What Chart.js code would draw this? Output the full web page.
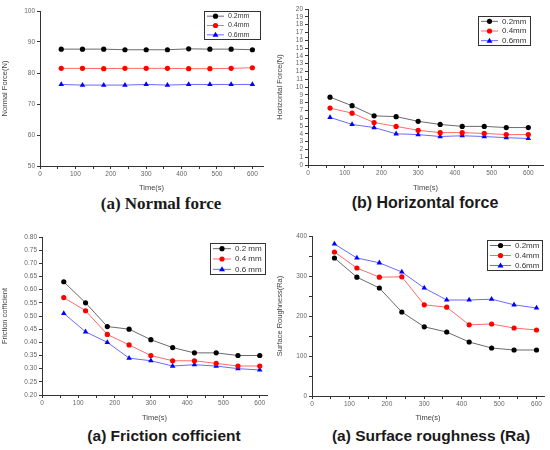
<!DOCTYPE html>
<html>
<head>
<meta charset="utf-8">
<script src="https://cdn.jsdelivr.net/npm/chart.js@4.4.1/dist/chart.umd.min.js"></script>
<style>
  body { margin: 0; background: #fff; width: 550px; height: 450px; position: relative; overflow: hidden; font-family: "Liberation Sans", Arial, sans-serif; }
  .panel { position: absolute; width: 275px; }
  .cap { position: absolute; font-weight: bold; font-size: 15px; white-space: nowrap; transform: translateX(-50%); color: #1a1a1a; }
</style>
</head>
<body>
<div class="panel" style="left:0;top:0;height:192px"><canvas id="chartA"></canvas></div>
<div class="panel" style="left:275px;top:0;height:192px"><canvas id="chartB"></canvas></div>
<div class="panel" style="left:0;top:225px;height:197px"><canvas id="chartC"></canvas></div>
<div class="panel" style="left:275px;top:225px;height:197px"><canvas id="chartD"></canvas></div>
<div class="cap" style="left:161px;top:194px;font-family:'Liberation Serif',serif;font-size:17px">(a) Normal force</div>
<div class="cap" style="left:425px;top:194px;font-size:16px">(b) Horizontal force</div>
<div class="cap" style="left:164px;top:427px;font-size:15.5px">(a) Friction cofficient</div>
<div class="cap" style="left:431px;top:427px;font-size:15.5px">(a) Surface roughness (Ra)</div>
<script>
// tiempos de medicion (s)
const tiempos = [60, 120, 180, 240, 300, 360, 420, 480, 540, 600];
const marcasX = [0, 50, 100, 150, 200, 250, 300, 350, 400, 450, 500, 550, 600];
const espesores = ["0.2mm", "0.4mm", "0.6mm"];
const espesoresC = ["0.2 mm", "0.4 mm", "0.6 mm"];

// (a) fuerza normal
const normal02 = [87.7, 87.7, 87.7, 87.5, 87.5, 87.5, 87.8, 87.7, 87.7, 87.5];
const normal04 = [81.5, 81.5, 81.4, 81.5, 81.5, 81.5, 81.4, 81.4, 81.5, 81.7];
const normal06 = [76.3, 76.1, 76.1, 76.1, 76.3, 76.1, 76.3, 76.3, 76.3, 76.3];

// (b) fuerza horizontal
const horiz02 = [8.7, 7.6, 6.3, 6.2, 5.6, 5.2, 4.95, 4.95, 4.8, 4.8];
const horiz04 = [7.3, 6.65, 5.45, 4.95, 4.45, 4.15, 4.15, 4.05, 3.9, 3.9];
const horiz06 = [6.1, 5.2, 4.8, 4.0, 3.9, 3.65, 3.75, 3.65, 3.5, 3.4];

// (c) coeficiente de friccion
const fric02 = [0.63, 0.55, 0.46, 0.45, 0.41, 0.38, 0.36, 0.36, 0.35, 0.35];
const fric04 = [0.57, 0.52, 0.43, 0.39, 0.35, 0.33, 0.33, 0.32, 0.31, 0.31];
const fric06 = [0.51, 0.44, 0.40, 0.34, 0.33, 0.31, 0.315, 0.31, 0.30, 0.295];

// (d) rugosidad superficial
const rug02 = [345, 297, 270, 210, 173, 160, 135, 120, 115, 115];
const rug04 = [360, 320, 297, 298, 228, 222, 178, 180, 170, 165];
const rug06 = [380, 345, 333, 310, 270, 240, 240, 242, 228, 220];

const marcas = ["#000000", "#ff0000", "#0000ff"];
const lineas = ["#6a6a6a", "#ff6a6a", "#6a6aff"];
const formas = ["circle", "circle", "triangle"];

const leyendaCaja = {
  id: "leyendaCaja",
  afterDatasetsDraw(chart, args, opts) {
    const ctx = chart.ctx;
    const b = opts.caja;
    ctx.save();
    ctx.strokeStyle = "#333";
    ctx.lineWidth = 1;
    ctx.strokeRect(b.x + 0.5, b.y + 0.5, b.w, b.h);
    const fila = b.h / chart.data.datasets.length;
    chart.data.datasets.forEach((ds, i) => {
      const y = b.y + fila * (i + 0.5) + 0.5;
      const x0 = b.x + 3;
      ctx.strokeStyle = ds.borderColor;
      ctx.lineWidth = 1;
      ctx.beginPath();
      ctx.moveTo(x0, y);
      ctx.lineTo(x0 + b.linea, y);
      ctx.stroke();
      const cx = x0 + b.linea / 2;
      ctx.fillStyle = ds.pointBackgroundColor;
      ctx.beginPath();
      if (ds.pointStyle === "triangle") {
        ctx.moveTo(cx, y - 3);
        ctx.lineTo(cx + 3, y + 2);
        ctx.lineTo(cx - 3, y + 2);
        ctx.closePath();
      } else {
        ctx.arc(cx, y, 2.6, 0, Math.PI * 2);
      }
      ctx.fill();
      ctx.fillStyle = "#333";
      ctx.font = b.fuente + "px 'Liberation Sans', Arial, sans-serif";
      ctx.textBaseline = "middle";
      ctx.textAlign = "left";
      ctx.fillText(ds.label, x0 + b.linea + 4, y);
    });
    ctx.restore();
  }
};

function series(nombres, valores) {
  return valores.map((v, i) => ({
    label: nombres[i],
    data: tiempos.map((t, j) => ({ x: t, y: v[j] })),
    borderColor: lineas[i],
    borderWidth: 1,
    pointStyle: formas[i],
    pointRadius: formas[i] === "triangle" ? 3.2 : 2.6,
    pointBackgroundColor: marcas[i],
    pointBorderColor: marcas[i],
    pointBorderWidth: 0,
    tension: 0,
    fill: false
  }));
}

function grafico(id, p) {
  const canvas = document.getElementById(id);
  const ancho = 275;
  const alto = canvas.parentNode.clientHeight;
  const ejeComun = {
    grid: { drawOnChartArea: false, drawTicks: true, tickLength: 3, color: "#333", tickWidth: 1 },
    border: { color: "#333", width: 1 }
  };
  return new Chart(canvas, {
    type: "line",
    data: { datasets: series(p.nombres, p.valores) },
    options: {
      responsive: true,
      maintainAspectRatio: false,
      animation: false,
      layout: { padding: { left: 0, right: ancho - p.area.right, top: p.area.top, bottom: 0 } },
      plugins: {
        legend: { display: false },
        tooltip: { enabled: false },
        leyendaCaja: { caja: p.caja }
      },
      scales: {
        x: Object.assign({}, ejeComun, {
          type: "linear",
          min: 0,
          max: p.xMax,
          afterBuildTicks: s => { s.ticks = marcasX.map(v => ({ value: v })); },
          ticks: {
            autoSkip: false,
            maxRotation: 0,
            padding: 1,
            color: "#666",
            font: { size: 6.5, family: "'Liberation Sans', Arial, sans-serif" },
            callback: v => (v % 100 === 0 ? v : "")
          },
          title: { display: true, text: "Time(s)", color: "#444", padding: 0, font: { size: 7.5, family: "'Liberation Sans', Arial, sans-serif" } },
          afterFit: s => { s.height = alto - p.area.bottom; }
        }),
        y: Object.assign({}, ejeComun, {
          min: p.yMin,
          max: p.yMax,
          ticks: {
            stepSize: p.yStep,
            autoSkip: false,
            padding: 2,
            color: "#666",
            font: { size: 6.5, family: "'Liberation Sans', Arial, sans-serif" },
            callback: p.yEtiqueta
          },
          title: { display: true, text: p.yTitulo, color: "#444", padding: 0, font: { size: 7.5, family: "'Liberation Sans', Arial, sans-serif" } },
          afterFit: s => { s.width = p.area.left; }
        })
      }
    },
    plugins: [leyendaCaja]
  });
}

grafico("chartA", {
  nombres: espesores,
  valores: [normal02, normal04, normal06],
  xMax: 630, yMin: 50, yMax: 100, yStep: 10,
  yEtiqueta: v => v,
  yTitulo: "Normal Force(N)",
  area: { left: 40, right: 263, top: 11, bottom: 166 },
  caja: { x: 204, y: 11, w: 56, h: 28, linea: 17, fuente: 7 }
});

grafico("chartB", {
  nombres: espesores,
  valores: [horiz02, horiz04, horiz06],
  xMax: 640, yMin: 0, yMax: 20, yStep: 1,
  yEtiqueta: v => v,
  yTitulo: "Horizontal Force(N)",
  area: { left: 33, right: 268, top: 9, bottom: 165 },
  caja: { x: 203, y: 16, w: 52, h: 29, linea: 17, fuente: 8 }
});

grafico("chartC", {
  nombres: espesoresC,
  valores: [fric02, fric04, fric06],
  xMax: 620, yMin: 0.2, yMax: 0.8, yStep: 0.05,
  yEtiqueta: v => v.toFixed(2),
  yTitulo: "Friction cofficient",
  area: { left: 42, right: 267, top: 12, bottom: 170 },
  caja: { x: 210, y: 18, w: 55, h: 31, linea: 18, fuente: 8 }
});

grafico("chartD", {
  nombres: espesores,
  valores: [rug02, rug04, rug06],
  xMax: 620, yMin: 0, yMax: 400, yStep: 50,
  yEtiqueta: v => (v % 100 === 0 ? v : ""),
  yTitulo: "Surface Roughness(Ra)",
  area: { left: 37, right: 269, top: 11, bottom: 171 },
  caja: { x: 212, y: 15, w: 55, h: 30, linea: 21, fuente: 8 }
});
</script>
</body>
</html>
